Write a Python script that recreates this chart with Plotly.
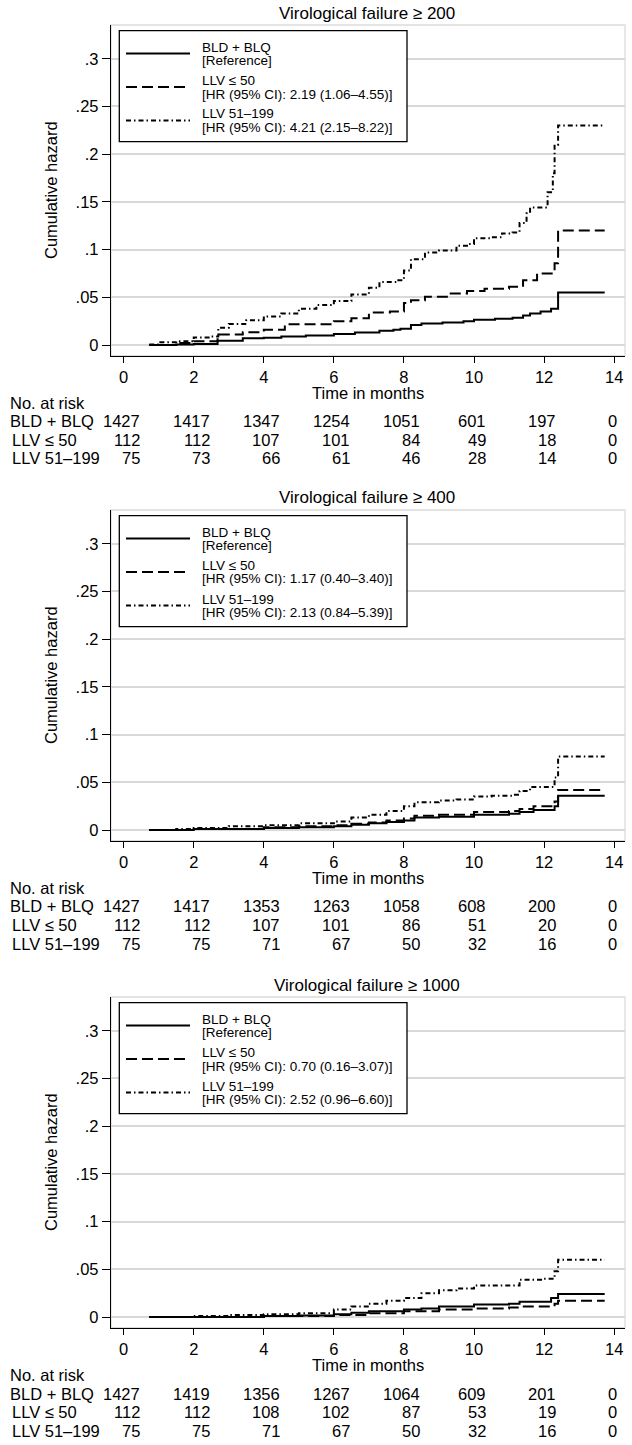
import plotly.graph_objects as go

W, H = 632, 1445
FONT = "Liberation Sans, Arial, Helvetica, sans-serif"

# ---------------- data ----------------
panel_titles = ["Virological failure ≥ 200", "Virological failure ≥ 400", "Virological failure ≥ 1000"]
groups = ["BLD + BLQ", "LLV ≤ 50", "LLV 51–199"]
legend_notes = [
    ["[Reference]", "[HR (95% CI): 2.19 (1.06–4.55)]", "[HR (95% CI): 4.21 (2.15–8.22)]"],
    ["[Reference]", "[HR (95% CI): 1.17 (0.40–3.40)]", "[HR (95% CI): 2.13 (0.84–5.39)]"],
    ["[Reference]", "[HR (95% CI): 0.70 (0.16–3.07)]", "[HR (95% CI): 2.52 (0.96–6.60)]"],
]
risk_months = [0, 2, 4, 6, 8, 10, 12, 14]
risk_200 = [[1427, 1417, 1347, 1254, 1051, 601, 197, 0],
            [112, 112, 107, 101, 84, 49, 18, 0],
            [75, 73, 66, 61, 46, 28, 14, 0]]
risk_400 = [[1427, 1417, 1353, 1263, 1058, 608, 200, 0],
            [112, 112, 107, 101, 86, 51, 20, 0],
            [75, 75, 71, 67, 50, 32, 16, 0]]
risk_1000 = [[1427, 1419, 1356, 1267, 1064, 609, 201, 0],
             [112, 112, 108, 102, 87, 53, 19, 0],
             [75, 75, 71, 67, 50, 32, 16, 0]]
risk_tables = [risk_200, risk_400, risk_1000]

y_tickvals = [0, 0.05, 0.1, 0.15, 0.2, 0.25, 0.3]
y_ticktext = ["0", ".05", ".1", ".15", ".2", ".25", ".3"]
x_tickvals = [0, 2, 4, 6, 8, 10, 12, 14]

# cumulative hazard step curves (time in months, value after step)
# Panel 1: VF >= 200
t_200_bld = [0.73, 1.5, 2.0, 2.68, 3.4, 4.0, 4.5, 5.2, 6.0, 6.6, 7.3, 7.7, 7.9, 8.2, 8.5, 9.1, 9.7, 10.0, 10.6, 11.1, 11.4, 11.6, 11.9, 12.2, 12.4, 13.73]
h_200_bld = [0.0, 0.0005, 0.001, 0.0045, 0.007, 0.0077, 0.009, 0.010, 0.0115, 0.013, 0.015, 0.016, 0.017, 0.021, 0.0225, 0.0235, 0.025, 0.0265, 0.0275, 0.0285, 0.031, 0.033, 0.035, 0.038, 0.055, 0.055]
t_200_l50 = [0.73, 1.5, 2.0, 2.68, 3.4, 4.0, 4.6, 6.0, 6.5, 7.0, 7.6, 8.0, 8.2, 8.6, 9.3, 9.8, 10.3, 11.0, 11.4, 11.8, 12.3, 12.4, 13.73]
h_200_l50 = [0.0, 0.002, 0.004, 0.011, 0.0135, 0.016, 0.0217, 0.025, 0.028, 0.034, 0.035, 0.044, 0.047, 0.0507, 0.054, 0.0567, 0.059, 0.061, 0.068, 0.075, 0.0857, 0.12, 0.12]
t_200_l199 = [0.73, 1.0, 1.5, 2.0, 2.5, 2.7, 3.0, 3.5, 4.0, 4.5, 5.0, 5.5, 6.0, 6.5, 7.0, 7.3, 7.8, 8.0, 8.2, 8.6, 9.0, 9.5, 9.8, 10.0, 10.5, 10.8, 11.1, 11.3, 11.5, 11.6, 12.1, 12.25, 12.3, 12.4, 13.73]
h_200_l199 = [0.0005, 0.003, 0.004, 0.008, 0.009, 0.018, 0.022, 0.026, 0.030, 0.033, 0.038, 0.042, 0.046, 0.053, 0.060, 0.066, 0.068, 0.078, 0.090, 0.097, 0.099, 0.104, 0.106, 0.112, 0.113, 0.117, 0.118, 0.128, 0.138, 0.144, 0.160, 0.180, 0.210, 0.230, 0.230]

# Panel 2: VF >= 400
t_400_bld = [0.73, 2.0, 4.0, 5.0, 6.0, 6.5, 7.0, 7.5, 8.0, 8.3, 9.0, 10.0, 11.0, 11.3, 11.7, 12.3, 12.4, 13.73]
h_400_bld = [0.0, 0.001, 0.002, 0.003, 0.004, 0.0055, 0.007, 0.0085, 0.010, 0.013, 0.014, 0.016, 0.017, 0.019, 0.021, 0.025, 0.036, 0.036]
t_400_l50 = [0.73, 2.0, 4.0, 5.0, 6.0, 6.5, 7.0, 7.5, 8.0, 8.3, 9.0, 10.0, 11.0, 11.3, 11.7, 12.3, 12.4, 13.73]
h_400_l50 = [0.0, 0.001, 0.003, 0.004, 0.005, 0.0065, 0.008, 0.010, 0.012, 0.015, 0.016, 0.019, 0.020, 0.022, 0.025, 0.030, 0.042, 0.042]
t_400_l199 = [0.73, 1.5, 2.0, 3.0, 4.0, 5.0, 6.0, 6.5, 7.0, 7.5, 8.0, 8.3, 9.0, 9.5, 10.0, 10.5, 11.1, 11.3, 11.6, 12.3, 12.4, 13.73]
h_400_l199 = [0.0, 0.001, 0.002, 0.004, 0.005, 0.007, 0.009, 0.013, 0.016, 0.020, 0.025, 0.029, 0.031, 0.032, 0.035, 0.036, 0.037, 0.041, 0.045, 0.055, 0.077, 0.077]

# Panel 3: VF >= 1000
t_1000_bld = [0.73, 4.0, 5.0, 6.0, 6.5, 7.0, 8.0, 8.5, 9.0, 10.0, 11.0, 11.3, 12.2, 12.4, 13.73]
h_1000_bld = [0.0, 0.001, 0.0015, 0.003, 0.0045, 0.006, 0.008, 0.009, 0.011, 0.013, 0.014, 0.016, 0.020, 0.024, 0.024]
t_1000_l50 = [0.73, 4.0, 6.0, 7.0, 8.0, 9.0, 10.0, 11.0, 11.3, 12.3, 12.4, 13.73]
h_1000_l50 = [0.0, 0.001, 0.002, 0.004, 0.006, 0.008, 0.009, 0.010, 0.011, 0.014, 0.017, 0.017]
t_1000_l199 = [0.73, 2.0, 3.0, 4.0, 5.0, 6.0, 6.5, 7.0, 7.5, 8.0, 8.5, 9.0, 9.5, 10.0, 11.0, 11.3, 12.0, 12.3, 12.4, 13.73]
h_1000_l199 = [0.0, 0.001, 0.002, 0.003, 0.004, 0.008, 0.011, 0.014, 0.017, 0.020, 0.025, 0.028, 0.030, 0.033, 0.033, 0.039, 0.040, 0.048, 0.060, 0.060]

curves = [
    [(t_200_bld, h_200_bld), (t_200_l50, h_200_l50), (t_200_l199, h_200_l199)],
    [(t_400_bld, h_400_bld), (t_400_l50, h_400_l50), (t_400_l199, h_400_l199)],
    [(t_1000_bld, h_1000_bld), (t_1000_l50, h_1000_l50), (t_1000_l199, h_1000_l199)],
]

# ---------------- styling / layout ----------------
dashes = ["solid", "11px,5px", "5px,3px,1.5px,3px"]
offsets = [0, 485, 972]
PLOT_L, PLOT_R = 111, 625
PLOT_T, PLOT_B = 25, 355.7
Y_RANGE = [-0.0112, 0.3354]
X_RANGE = [-0.362, 14.31]


def px(x):
    return x / W


def py(y):
    return 1 - y / H


fig = go.Figure()
annotations = []
shapes = []

for k in range(3):
    o = offsets[k]
    sfx = "" if k == 0 else str(k + 1)
    xa, ya = "x" + sfx, "y" + sfx
    for g in range(3):
        t, h = curves[k][g]
        fig.add_trace(go.Scatter(
            x=t, y=h, mode="lines", line=dict(color="black", width=2, dash=dashes[g], shape="hv"),
            xaxis=xa, yaxis=ya, showlegend=False, hoverinfo="skip"))

    fig.update_layout(**{
        "xaxis" + sfx: dict(
            domain=[px(PLOT_L), px(PLOT_R)], anchor=ya, range=X_RANGE,
            tickvals=x_tickvals, ticks="outside", ticklen=6, tickwidth=1.3, tickcolor="black",
            showline=True, linecolor="black", linewidth=1.3, showgrid=False, zeroline=False,
            tickfont=dict(family=FONT, size=16.5, color="black")),
        "yaxis" + sfx: dict(
            domain=[py(PLOT_B + o), py(PLOT_T + o)], anchor=xa, range=Y_RANGE,
            tickvals=y_tickvals, ticktext=y_ticktext, ticks="outside", ticklen=8, tickwidth=1.3,
            tickcolor="black", showline=True, linecolor="black", linewidth=1.3,
            showgrid=True, gridcolor="#d9d9d9", gridwidth=1.5, zeroline=False,
            tickfont=dict(family=FONT, size=16.5, color="black")),
    })

    # light plot-region border
    shapes.append(dict(type="rect", xref=xa + " domain", yref=ya + " domain", x0=0, x1=1, y0=0, y1=1,
                       line=dict(color="#dcdcdc", width=1.3), layer="below"))

    # panel title
    annotations.append(dict(text=panel_titles[k], x=px(367), y=py(13 + o), xref="paper", yref="paper",
                            showarrow=False, xanchor="center", yanchor="middle",
                            font=dict(family=FONT, size=17, color="black")))
    # axis titles
    annotations.append(dict(text="Cumulative hazard", x=px(51), y=py(190 + o), xref="paper", yref="paper",
                            showarrow=False, textangle=-90, xanchor="center", yanchor="middle",
                            font=dict(family=FONT, size=16.5, color="black")))
    annotations.append(dict(text="Time in months", x=px(368), y=py(392.5 + o), xref="paper", yref="paper",
                            showarrow=False, xanchor="center", yanchor="middle",
                            font=dict(family=FONT, size=16.5, color="black")))

    # legend box
    shapes.append(dict(type="rect", xref="paper", yref="paper", x0=px(119.3), x1=px(407),
                       y0=py(141.7 + o), y1=py(30.7 + o), line=dict(color="black", width=1.3),
                       fillcolor="white", layer="above"))
    item_y = [47, 80.5, 114]
    for g in range(3):
        y1 = item_y[g] + o
        ys = y1 + 6.5
        shapes.append(dict(type="line", xref="paper", yref="paper", x0=px(126), x1=px(190),
                           y0=py(ys), y1=py(ys), line=dict(color="black", width=2, dash=dashes[g]),
                           layer="above"))
        annotations.append(dict(text=groups[g], x=px(200), y=py(y1), xref="paper", yref="paper",
                                showarrow=False, xanchor="left", yanchor="middle",
                                font=dict(family=FONT, size=13.5, color="black")))
        annotations.append(dict(text=legend_notes[k][g], x=px(200), y=py(y1 + 13.5), xref="paper",
                                yref="paper", showarrow=False, xanchor="left", yanchor="middle",
                                font=dict(family=FONT, size=13.5, color="black")))

    # risk table
    annotations.append(dict(text="No. at risk", x=px(8), y=py(403 + o), xref="paper", yref="paper",
                            showarrow=False, xanchor="left", yanchor="middle",
                            font=dict(family=FONT, size=16.5, color="black")))
    row_y = [421.5, 440, 458.5]
    table = risk_tables[k]
    for g in range(3):
        annotations.append(dict(text=groups[g], x=px(8 if g == 0 else 10), y=py(row_y[g] + o), xref="paper",
                                yref="paper", showarrow=False, xanchor="left", yanchor="middle",
                                font=dict(family=FONT, size=16.5, color="black")))
        for j, m in enumerate(risk_months):
            maxlen = max(len(str(table[r][j])) for r in range(3))
            shift = maxlen * 0.556 * 16.5 / 2
            annotations.append(dict(text=str(table[g][j]), x=m, xref=xa, y=py(row_y[g] + o), yref="paper",
                                    showarrow=False, xanchor="right", yanchor="middle", xshift=shift,
                                    font=dict(family=FONT, size=16.5, color="black")))

fig.update_layout(
    width=W, height=H, margin=dict(l=0, r=0, t=0, b=0),
    paper_bgcolor="white", plot_bgcolor="white",
    showlegend=False, annotations=annotations, shapes=shapes,
)

# remove the browser's default 8px page margin so the figure fills the window exactly
fig.write_html("out.html", config={"displayModeBar": False},
               post_script="document.body.style.margin='0px';")
